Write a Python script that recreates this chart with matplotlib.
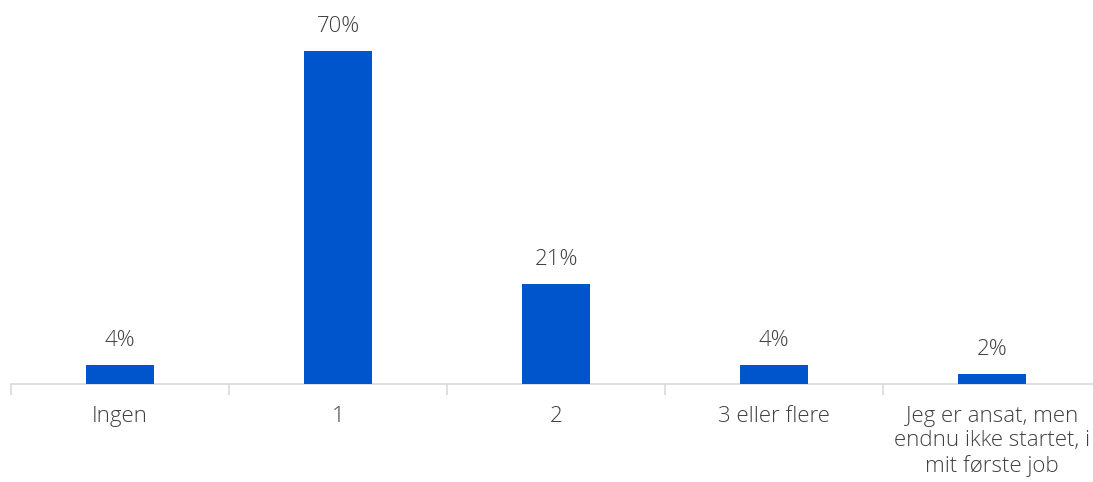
import matplotlib.pyplot as plt
import numpy as np

categories = ["Ingen", "1", "2", "3 eller flere",
              "Jeg er ansat, men\nendnu ikke startet, i\nmit første job"]
values = [4, 70, 21, 4, 2]
labels = ["4%", "70%", "21%", "4%", "2%"]

plt.rcParams['font.family'] = ['Open Sans', 'DejaVu Sans']
text_color = "#404040"
bar_color = "#0055CC"

fig = plt.figure(figsize=(10.93, 4.82), dpi=100)
ax = fig.add_axes([11 / 1093, 98 / 482, 1090 / 1093, 384 / 482])

x = np.arange(len(categories))
bars = ax.bar(x, values, width=0.31, color=bar_color, zorder=3)

for rect, lab in zip(bars, labels):
    ax.text(rect.get_x() + rect.get_width() / 2, rect.get_height() + 3.0, lab,
            ha="center", va="bottom", fontsize=16, color=text_color,
            fontweight="light")

ax.set_xlim(-0.5, len(categories) - 0.5)
ax.set_ylim(0, 384 / 4.757)
ax.set_yticks([])
for s in ["top", "right", "left"]:
    ax.spines[s].set_visible(False)
ax.spines["bottom"].set_color("#d9d9d9")
ax.spines["bottom"].set_linewidth(1.2)

ax.set_xticks(x)
ax.set_xticklabels(categories, fontsize=16, color=text_color, linespacing=1.2,
                   fontweight="light")
ax.tick_params(axis="x", which="major", length=0, pad=16)
ax.set_xticks(np.arange(-0.5, len(categories), 1), minor=True)
ax.tick_params(axis="x", which="minor", length=8, color="#d9d9d9", width=1.2)

fig.savefig("out.png", dpi=100)
